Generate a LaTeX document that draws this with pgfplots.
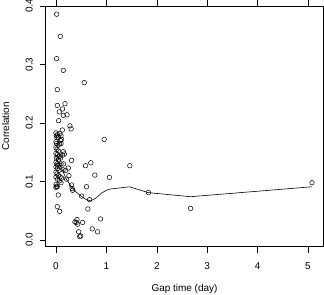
\documentclass[border=0pt]{standalone}
\usepackage{pgfplots}
\pgfplotsset{compat=1.18}
\usepackage{fontspec}
\setmainfont{Liberation Sans}
\begin{document}
\begin{tikzpicture}
\begin{axis}[
  at={(0,0)}, anchor=south west,
  scale only axis, width=277.6bp, height=240.7bp,
  xmin=-0.204, xmax=5.304, ymin=-0.01145, ymax=0.4,
  xtick={0,1,2,3,4,5}, ytick={0,0.1,0.2,0.3,0.4},
  tick align=outside, major tick length=6bp,
  tick style={black, line width=0.5bp},
  axis line style={black, line width=0.6bp},
  /pgf/number format/assume math mode=true,
  xticklabel shift=0pt, yticklabel shift=0pt,
  yticklabel style={/pgf/number format/fixed, /pgf/number format/fixed zerofill, /pgf/number format/precision=1, anchor=center, xshift=-10.5bp, rotate=90, font=\fontsize{10}{12}\selectfont},
  xticklabel style={anchor=center, yshift=-13.5bp, font=\fontsize{10}{12}\selectfont},
  scaled y ticks=false,
  xlabel={Gap time (day)}, ylabel={Correlation},
  xlabel style={font=\fontsize{10}{12}\selectfont, at={(axis description cs:0.5,0)}, anchor=center, yshift=-42.3bp},
  ylabel style={font=\fontsize{10}{12}\selectfont, at={(axis description cs:0,0.5)}, anchor=center, rotate=0, xshift=0bp, yshift=40.2bp},
  clip=false,
]
\addplot[only marks, mark=o, mark size=2.3bp, mark options={line width=0.5bp, black}] coordinates {
(0.013,0.386) (0.086,0.348) (0.013,0.310) (0.145,0.290) (0.56,0.269) (0.026,0.257)
(0.026,0.230) (0.178,0.233) (0.066,0.219) (0.13,0.224) (0.145,0.213) (0.218,0.214)
(0.053,0.204) (0.277,0.195) (0.30,0.190) (0.125,0.188) (0.957,0.172)
(0.145,0.151) (0.165,0.147) (0.31,0.136) (0.587,0.127) (0.69,0.132) (1.465,0.127)
(0.244,0.123) (0.19,0.119) (0.257,0.110) (0.77,0.111) (1.06,0.107) (0.21,0.104)
(0.607,0.091) (0.31,0.094) (0.32,0.088) (0.33,0.085) (0.51,0.075) (0.666,0.069)
(1.834,0.081) (5.08,0.098) (2.67,0.054) (0.026,0.057) (0.073,0.049) (0.633,0.053)
(0.416,0.035) (0.376,0.031) (0.40,0.030) (0.43,0.027) (0.53,0.030) (0.884,0.036)
(0.72,0.019) (0.825,0.014) (0.45,0.014) (0.47,0.006) (0.49,0.007)
(0.046,0.077) (0.026,0.091) (0.0,0.090)
(0.0,0.183) (0.01,0.178) (0.02,0.175) (0.03,0.180) (0.05,0.176) (0.08,0.182)
(0.10,0.178) (0.11,0.172) (0.09,0.170) (0.0,0.168) (0.015,0.165) (0.04,0.162)
(0.07,0.164) (0.10,0.165) (0.0,0.158) (0.02,0.155) (0.05,0.152) (0.0,0.148)
(0.03,0.146) (0.07,0.143) (0.09,0.140) (0.01,0.140) (0.05,0.137) (0.0,0.133)
(0.02,0.130) (0.06,0.128) (0.10,0.130) (0.0,0.125) (0.03,0.122) (0.06,0.119)
(0.14,0.120) (0.0,0.116) (0.02,0.113) (0.05,0.110) (0.08,0.108) (0.11,0.106)
(0.0,0.108) (0.03,0.104) (0.07,0.101) (0.10,0.098) (0.01,0.092) (0.0,0.095)
(0.03,0.128) (0.04,0.142) (0.13,0.145) (0.15,0.130)
};
\addplot[black, line width=0.6bp] coordinates {
(0,0.140) (0.1,0.125) (0.2,0.105) (0.3,0.092) (0.4,0.082) (0.5,0.075) (0.6,0.069)
(0.69,0.067) (0.8,0.072) (0.9,0.080) (1.0,0.085) (1.07,0.087) (1.46,0.091)
(1.83,0.081) (2.67,0.074) (5.08,0.091)
};
\end{axis}
\pgfresetboundingbox
\path (-45.7bp,-48.3bp) rectangle (278.3bp,246.7bp);
\end{tikzpicture}
\end{document}
